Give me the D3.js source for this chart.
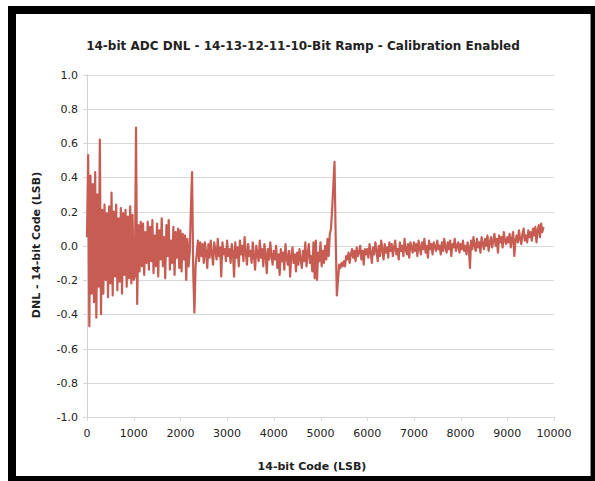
<!DOCTYPE html>
<html>
<head>
<meta charset="utf-8">
<script src="https://cdn.jsdelivr.net/npm/d3@7"></script>
<style>
  body { margin: 0; background: #fff; }
  svg text { font-family: "DejaVu Sans", Verdana, sans-serif; fill: #222; }
</style>
</head>
<body>
<div id="chart"></div>
<script>
const width = 595;
const height = 481;

const title = "14-bit ADC DNL - 14-13-12-11-10-Bit Ramp - Calibration Enabled";
const xTitle = "14-bit Code (LSB)";
const yTitle = "DNL - 14-bit Code (LSB)";

// one DNL reading every `codeStep` codes, starting at code 0
const codeStep = 25;
const dnl = [
  0.05, 0.53, -0.47, 0.41, -0.28, 0.36, -0.33, 0.43, -0.42, 0.30, -0.24, 0.62, -0.40, 0.21, -0.28, 0.24, -0.20, 0.19, -0.30, 0.23,
  -0.22, 0.31, -0.29, 0.20, -0.18, 0.24, -0.26, 0.16, -0.21, 0.22, -0.28, 0.19, -0.17, 0.21, -0.24, 0.17, -0.19, 0.23, -0.22, 0.18,
  -0.20, -0.18, 0.69, -0.34, 0.12, -0.15, 0.14, -0.12, 0.13, -0.17, 0.08, -0.10, 0.14, -0.14, 0.11, -0.09, 0.15, -0.16, 0.06, -0.12,
  0.13, -0.18, 0.09, -0.08, 0.16, -0.12, 0.05, -0.19, 0.12, -0.06, 0.15, -0.14, 0.03, -0.10, 0.11, -0.17, 0.08, -0.07, 0.10, -0.13,
  0.09, -0.15, 0.07, -0.08, 0.06, -0.20, 0.04, -0.12, -0.04, 0.22, 0.43, -0.16, -0.39, -0.12, -0.05, 0.03, -0.09, 0.02, -0.06, 0.01,
  -0.10, 0.02, -0.04, -0.13, 0.01, -0.07, 0.03, -0.05, -0.11, 0.02, -0.03, -0.08, 0.04, -0.06, -0.01, -0.18, 0.02, -0.05, -0.02, -0.09,
  0.03, -0.06, -0.02, -0.10, 0.01, -0.04, -0.18, 0.02, -0.07, -0.01, -0.12, 0.03, -0.05, 0.00, -0.09, 0.05, -0.04, -0.11, 0.01, -0.06,
  -0.03, -0.10, 0.02, -0.06, -0.14, 0.00, -0.05, -0.09, 0.03, -0.07, -0.02, -0.12, 0.01, -0.05, -0.16, -0.02, -0.08, 0.02, -0.06, -0.11,
  -0.03, -0.08, 0.00, -0.13, -0.05, -0.17, -0.02, -0.09, -0.04, -0.14, 0.01, -0.07, -0.11, -0.03, -0.18, -0.06, -0.01, -0.10, -0.05, -0.15,
  -0.04, -0.11, -0.02, -0.08, -0.13, -0.03, -0.09, 0.02, -0.12, -0.05, 0.01, -0.10, -0.06, -0.15, 0.02, -0.19, 0.03, -0.20, -0.04, -0.09,
  0.02, -0.12, -0.03, -0.10, 0.00, -0.08, 0.04, -0.06, 0.07, 0.10, 0.22, 0.35, 0.49, 0.05, -0.29, -0.20, -0.11, -0.13, -0.10, -0.12,
  -0.09, -0.12, -0.06, -0.08, -0.04, -0.10, -0.05, -0.02, -0.07, -0.03, -0.09, -0.01, -0.06, -0.04, 0.00, -0.08, -0.03, -0.11, -0.02, -0.05,
  -0.02, -0.07, 0.01, -0.04, -0.10, -0.01, -0.05, 0.02, -0.03, -0.09, 0.00, -0.06, 0.03, -0.02, -0.08, 0.01, -0.04, -0.01, -0.07, 0.02,
  -0.03, 0.01, -0.06, -0.01, 0.03, -0.05, -0.02, -0.08, 0.02, -0.03, 0.00, -0.06, 0.04, -0.02, -0.05, 0.01, -0.07, 0.02, -0.01, -0.04,
  0.02, -0.03, 0.01, -0.06, 0.03, -0.01, -0.05, 0.02, -0.02, 0.04, -0.04, 0.00, -0.07, 0.03, -0.02, 0.01, -0.05, 0.02, -0.01, -0.03,
  0.03, -0.02, 0.00, -0.05, 0.02, -0.03, 0.04, -0.01, -0.04, 0.02, -0.02, 0.03, -0.06, 0.01, -0.01, 0.04, -0.03, 0.00, 0.02, -0.04,
  0.01, -0.02, 0.03, -0.03, 0.00, -0.05, 0.02, -0.01, -0.13, 0.03, -0.02, 0.05, 0.00, -0.03, 0.04, -0.01, 0.02, -0.04, 0.05, 0.01,
  -0.02, 0.04, 0.00, 0.06, -0.03, 0.02, 0.05, -0.01, 0.03, 0.07, 0.00, 0.04, -0.04, 0.06, 0.02, 0.05, -0.01, 0.08, 0.03, 0.01,
  0.05, 0.02, 0.07, -0.01, 0.04, 0.08, -0.06, 0.03, 0.06, 0.02, 0.09, 0.04, 0.01, 0.07, 0.10, 0.03, 0.06, 0.02, 0.09, 0.05,
  0.08, 0.03, 0.10, 0.06, 0.11, 0.02, 0.09, 0.12, 0.05, 0.13, 0.08, 0.11
];

const xTicks = [0, 1000, 2000, 3000, 4000, 5000, 6000, 7000, 8000, 9000, 10000];
const yTicks = [-1.0, -0.8, -0.6, -0.4, -0.2, 0.0, 0.2, 0.4, 0.6, 0.8, 1.0];

const margin = { left: 87, right: 41, top: 74.5, bottom: 64 };

const svg = d3
  .select("#chart")
  .append("svg")
  .attr("width", width)
  .attr("height", height);

// black frame around the chart
svg.append("rect").attr("x", 8).attr("y", 6).attr("width", 600).attr("height", 500).attr("fill", "#000");
svg.append("rect").attr("x", 16).attr("y", 14).attr("width", 574).attr("height", 462).attr("fill", "#fff");
svg.append("line").attr("x1", 590.5).attr("x2", 590.5).attr("y1", 14).attr("y2", 476).attr("stroke", "#888");

const x = d3.scaleLinear().domain([0, 10000]).range([margin.left, width - margin.right]);
const y = d3.scaleLinear().domain([-1, 1]).range([height - margin.bottom, margin.top]);

// gridlines
svg
  .append("g")
  .selectAll("line")
  .data(yTicks)
  .enter()
  .append("line")
  .attr("x1", x(0) - 4)
  .attr("x2", x(10000))
  .attr("y1", (d) => Math.round(y(d)) + 0.5)
  .attr("y2", (d) => Math.round(y(d)) + 0.5)
  .attr("stroke", "#d9d9d9")
  .attr("stroke-width", 1);

// y axis line
svg
  .append("line")
  .attr("x1", Math.round(x(0)) + 0.5)
  .attr("x2", Math.round(x(0)) + 0.5)
  .attr("y1", y(1))
  .attr("y2", y(-1))
  .attr("stroke", "#cfcfcf");

// x ticks below the bottom line
svg
  .append("g")
  .selectAll("line")
  .data(xTicks)
  .enter()
  .append("line")
  .attr("x1", (d) => Math.round(x(d)) + 0.5)
  .attr("x2", (d) => Math.round(x(d)) + 0.5)
  .attr("y1", y(-1))
  .attr("y2", y(-1) + 4)
  .attr("stroke", "#d9d9d9");

// tick labels (plain hyphen for negatives, like the original)
svg
  .append("g")
  .selectAll("text")
  .data(yTicks)
  .enter()
  .append("text")
  .attr("x", x(0) - 9)
  .attr("y", (d) => y(d) + 4)
  .attr("text-anchor", "end")
  .style("font-size", "11px")
  .text((d) => d.toFixed(1));

svg
  .append("g")
  .selectAll("text")
  .data(xTicks)
  .enter()
  .append("text")
  .attr("x", (d) => x(d))
  .attr("y", y(-1) + 20)
  .attr("text-anchor", "middle")
  .style("font-size", "11px")
  .text((d) => d);

// the DNL trace
const line = d3
  .line()
  .x((d, i) => x(i * codeStep))
  .y((d) => y(d));

svg
  .append("path")
  .datum(dnl)
  .attr("fill", "none")
  .attr("stroke", "#c75c53")
  .attr("stroke-width", 2.2)
  .attr("stroke-linejoin", "round")
  .attr("d", line);

// titles
svg
  .append("text")
  .attr("x", 303)
  .attr("y", 50)
  .attr("text-anchor", "middle")
  .style("font-size", "12px")
  .style("font-weight", "bold")
  .text(title);

svg
  .append("text")
  .attr("x", 312)
  .attr("y", 470)
  .attr("text-anchor", "middle")
  .style("font-size", "11px")
  .style("font-weight", "bold")
  .text(xTitle);

svg
  .append("text")
  .attr("transform", "translate(40,245) rotate(-90)")
  .attr("text-anchor", "middle")
  .style("font-size", "11px")
  .style("font-weight", "bold")
  .text(yTitle);
</script>
</body>
</html>
